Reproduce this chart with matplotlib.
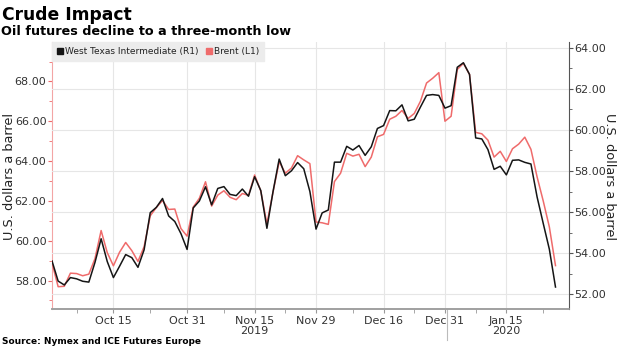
import matplotlib
matplotlib.use("Agg")
import matplotlib.pyplot as plt
from matplotlib.lines import Line2D
from matplotlib.ticker import MultipleLocator, FormatStrFormatter
import pandas as pd

# trading days shown (ICE calendar: no Dec 25 / Jan 1)
dates = pd.bdate_range("2019-10-01", "2020-01-27")
dates = dates[~dates.isin(pd.to_datetime(["2019-12-25", "2020-01-01"]))]

# West Texas Intermediate, right axis
wti = [53.62, 52.64, 52.45, 52.81, 52.75, 52.63, 52.59, 53.55, 54.70, 53.59,
       52.81, 53.36, 53.93, 53.78, 53.31, 54.16, 55.97, 56.23, 56.66, 55.81,
       55.54, 54.95, 54.18, 56.20, 56.54, 57.23, 56.35, 57.15, 57.24, 56.86,
       56.80, 57.12, 56.77, 57.72, 57.05, 55.21, 57.00, 58.58, 57.77, 58.01,
       58.41, 58.11, 57.00, 55.17, 55.96, 56.10, 58.43, 58.43, 59.20, 59.02,
       59.24, 58.76, 59.18, 60.07, 60.21, 60.94, 60.93, 61.22, 60.44, 60.52,
       61.11, 61.68, 61.72, 61.68, 61.06, 61.18, 63.05, 63.27, 62.70, 59.61,
       59.56, 59.04, 58.08, 58.23, 57.81, 58.52, 58.54, 58.42, 58.34, 56.74,
       55.45, 54.19, 52.35]

# Brent, left axis
brent = [58.89, 57.69, 57.71, 58.37, 58.35, 58.24, 58.32, 59.10, 60.51, 59.40,
         58.74, 59.42, 59.91, 59.50, 58.96, 59.70, 61.25, 61.67, 62.02, 61.57,
         61.59, 60.61, 60.23, 61.69, 62.13, 62.96, 61.74, 62.29, 62.51, 62.18,
         62.06, 62.37, 62.28, 63.30, 62.50, 60.85, 62.45, 63.97, 63.39, 63.65,
         64.27, 64.06, 63.87, 60.94, 60.90, 60.82, 62.97, 63.39, 64.39, 64.25,
         64.34, 63.72, 64.20, 65.22, 65.34, 66.10, 66.25, 66.54, 66.14, 66.39,
         67.00, 67.92, 68.16, 68.44, 66.00, 66.25, 68.60, 68.91, 68.35, 65.44,
         65.37, 65.05, 64.20, 64.49, 63.98, 64.62, 64.85, 65.20, 64.59, 63.21,
         62.00, 60.69, 58.75]

tick_dates = ["2019-10-15", "2019-10-31", "2019-11-15", "2019-11-29",
              "2019-12-16", "2019-12-31", "2020-01-15"]
year_labels = {"2019-11-15": "2019", "2020-01-15": "2020"}

RED = "#ef6b6b"
BLACK = "#151515"

x = list(range(len(dates)))

fig = plt.figure(figsize=(6.2, 3.48), dpi=100)
ax = fig.add_axes([52 / 620, 1 - 309 / 348, 517 / 620, 267 / 348])
ax2 = ax.twinx()

# red drawn in ax2 using the left axis scale so both lines sit above the grid
ax2.plot(x, brent, color=RED, lw=1.1, transform=ax.transData, zorder=2)
ax2.plot(x, wti, color=BLACK, lw=1.1, zorder=3)

ax.set_xlim(0, 84.2)
ax.set_ylim(56.57, 69.98)
ax2.set_ylim(51.28, 64.28)

# x axis
pos = [list(dates).index(pd.Timestamp(d)) for d in tick_dates]
labels = []
for d in tick_dates:
    t = pd.Timestamp(d)
    lab = t.strftime("%b ") + str(t.day)
    if d in year_labels:
        lab += "\n" + year_labels[d]
    labels.append(lab)
ax.set_xticks(pos)
ax.set_xticklabels(labels, fontsize=8, color="#333333", linespacing=1.05)
ax.set_xticks([4, 16, 28, 38, 49, 59, 69, 80], minor=True)
ax.tick_params(axis="x", which="both", length=3, color="#999999", pad=2)
ax.plot([64.25, 64.25], [0, -0.115], transform=ax.get_xaxis_transform(),
        color="#bbbbbb", lw=0.8, clip_on=False)

# left axis (Brent)
ax.yaxis.set_major_locator(MultipleLocator(2))
ax.yaxis.set_minor_locator(MultipleLocator(1))
ax.yaxis.set_major_formatter(FormatStrFormatter("%.2f"))
ax.tick_params(axis="y", which="both", color=RED, labelcolor="#333333",
               labelsize=8, pad=1)
ax.tick_params(axis="y", which="major", length=3)
ax.tick_params(axis="y", which="minor", length=2)

# right axis (WTI)
ax2.yaxis.set_major_locator(MultipleLocator(2))
ax2.yaxis.set_minor_locator(MultipleLocator(1))
ax2.yaxis.set_major_formatter(FormatStrFormatter("%.2f"))
ax2.tick_params(axis="y", which="both", color="#555555", labelcolor="#333333",
                labelsize=8, pad=1)
ax2.tick_params(axis="y", which="major", length=3)
ax2.tick_params(axis="y", which="minor", length=2)

# grid
ax.grid(axis="x", color="#e6e6e6", lw=0.8)
ax.set_axisbelow(True)
ax2.grid(axis="y", color="#e6e6e6", lw=0.8)
ax2.set_axisbelow(True)

for a in (ax, ax2):
    a.spines["top"].set_visible(False)
    a.spines["bottom"].set_color("#a0a0a0")
    a.spines["bottom"].set_linewidth(1.2)
ax.spines["left"].set_color("#f3a5a5")
ax.spines["right"].set_visible(False)
ax2.spines["left"].set_visible(False)
ax2.spines["right"].set_color("#555555")

# legend
handles = [
    Line2D([], [], marker="s", color=BLACK, linestyle="none", markersize=4.5),
    Line2D([], [], marker="s", color=RED, linestyle="none", markersize=4.5),
]
leg = ax2.legend(handles, ["West Texas Intermediate (R1)", "Brent (L1)"],
                 loc="upper left", bbox_to_anchor=(0, 1), borderaxespad=0,
                 ncol=2, fontsize=6.5, frameon=True, fancybox=False,
                 facecolor="#ececec", edgecolor="#ececec", framealpha=1,
                 handlelength=0.6, handletextpad=0.25, columnspacing=0.9,
                 borderpad=0.55)
for t in leg.get_texts():
    t.set_color("#222222")

# texts
fig.text(2 / 620, 1 - 19.5 / 348, "Crude Impact", fontsize=12.3,
         fontweight="bold", va="baseline", ha="left")
fig.text(1 / 620, 1 - 35 / 348, "Oil futures decline to a three-month low",
         fontsize=9.2, fontweight="bold", va="baseline", ha="left")
fig.text(10 / 620, 1 - 176 / 348, "U.S. dollars a barrel", fontsize=9.3,
         rotation=90, va="center", ha="center", color="#222222")
fig.text(610 / 620, 1 - 176 / 348, "U.S. dollars a barrel", fontsize=9.3,
         rotation=-90, va="center", ha="center", color="#222222")
fig.text(2 / 620, 1 - 344 / 348, "Source: Nymex and ICE Futures Europe",
         fontsize=6.5, fontweight="bold", va="baseline", ha="left")

fig.savefig("out.png", dpi=100)
